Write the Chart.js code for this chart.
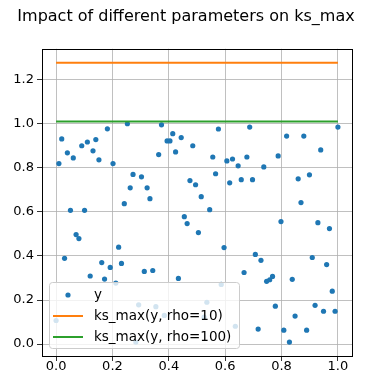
<!DOCTYPE html>
<html>
<head>
<meta charset="utf-8">
<script src="https://cdn.jsdelivr.net/npm/chart.js@4"></script>
<style>
  html, body { margin: 0; padding: 0; background: #fff; }
  #wrap { width: 377px; height: 391px; }
</style>
</head>
<body>
<div id="wrap"><canvas id="myChart" width="377" height="391"></canvas></div>
<script>
// -- data --
const xs = [
  0.000, 0.010, 0.020, 0.030, 0.040, 0.051, 0.061, 0.071, 0.081, 0.091,
  0.101, 0.111, 0.121, 0.131, 0.141, 0.152, 0.162, 0.172, 0.182, 0.192,
  0.202, 0.212, 0.222, 0.232, 0.242, 0.253, 0.263, 0.273, 0.283, 0.293,
  0.303, 0.313, 0.323, 0.333, 0.343, 0.354, 0.364, 0.374, 0.384, 0.394,
  0.404, 0.414, 0.424, 0.434, 0.444, 0.455, 0.465, 0.475, 0.485, 0.495,
  0.505, 0.515, 0.525, 0.535, 0.545, 0.556, 0.566, 0.576, 0.586, 0.596,
  0.606, 0.616, 0.626, 0.636, 0.646, 0.657, 0.667, 0.677, 0.687, 0.697,
  0.707, 0.717, 0.727, 0.737, 0.747, 0.758, 0.768, 0.778, 0.788, 0.798,
  0.808, 0.818, 0.828, 0.838, 0.848, 0.859, 0.869, 0.879, 0.889, 0.899,
  0.909, 0.919, 0.929, 0.939, 0.949, 0.960, 0.970, 0.980, 0.990, 1.000
];
const ys = [
  0.107, 0.819, 0.931, 0.389, 0.868, 0.607, 0.845, 0.497, 0.479, 0.900,
  0.607, 0.917, 0.309, 0.877, 0.928, 0.836, 0.370, 0.295, 0.977, 0.348,
  0.819, 0.277, 0.440, 0.366, 0.637, 1.000, 0.709, 0.770, 0.009, 0.178,
  0.759, 0.330, 0.709, 0.660, 0.334, 0.170, 0.860, 0.995, 0.130, 0.922,
  0.922, 0.955, 0.872, 0.298, 0.937, 0.578, 0.547, 0.742, 0.900, 0.723,
  0.506, 0.669, 0.122, 0.190, 0.610, 0.849, 0.773, 0.976, 0.271, 0.438,
  0.831, 0.732, 0.840, 0.081, 0.809, 0.746, 0.325, 0.849, 0.985, 0.746,
  0.407, 0.068, 0.380, 0.804, 0.285, 0.292, 0.307, 0.172, 0.854, 0.556,
  0.063, 0.944, 0.009, 0.294, 0.127, 0.750, 0.642, 0.944, 0.063, 0.768,
  0.393, 0.176, 0.551, 0.881, 0.149, 0.361, 0.524, 0.240, 0.149, 0.985
];
const lineX     = [0.0, 1.0];
const ksRho10   = [1.277, 1.277];
const ksRho100  = [1.010, 1.010];
const labels    = ['y', 'ks_max(y, rho=10)', 'ks_max(y, rho=100)'];
const titleText = 'Impact of different parameters on ks_max';
const xTicks    = [0.0, 0.2, 0.4, 0.6, 0.8, 1.0];
const yTicks    = [0.0, 0.2, 0.4, 0.6, 0.8, 1.0, 1.2];

const FONT = "'DejaVu Sans', sans-serif";
Chart.defaults.font.family = FONT;
Chart.defaults.color = '#000';

const pts = (a, b) => a.map((v, i) => ({ x: v, y: b[i] }));

// title, frame round the axes and legend box inside the plot, like matplotlib
const framePlugin = {
    id: 'frame',
    afterDraw(chart) {
        const { ctx, chartArea: a } = chart;
        ctx.save();
        ctx.strokeStyle = '#000';
        ctx.lineWidth = 1;
        ctx.strokeRect(Math.round(a.left) + 0.5, Math.round(a.top) + 0.5,
                       Math.round(a.right - a.left), Math.round(a.bottom - a.top));

        ctx.font = '16px ' + FONT;
        ctx.textAlign = 'center';
        ctx.textBaseline = 'middle';
        ctx.fillStyle = '#000';
        ctx.fillText(titleText, 186, 17);

        // legend
        const bx = 49.5, by = 282.5, bw = 190, bh = 66;
        ctx.beginPath();
        ctx.roundRect(bx, by, bw, bh, 3);
        ctx.fillStyle = 'rgba(255,255,255,0.8)';
        ctx.fill();
        ctx.strokeStyle = '#cccccc';
        ctx.stroke();

        ctx.font = '13.5px ' + FONT;
        ctx.textAlign = 'left';
        chart.data.datasets.forEach((ds, i) => {
            const cy = 295 + i * 21;
            if (ds.type === 'scatter') {
                ctx.beginPath();
                ctx.arc(68, cy, 2.6, 0, Math.PI * 2);
                ctx.fillStyle = ds.backgroundColor;
                ctx.fill();
            } else {
                ctx.beginPath();
                ctx.moveTo(53, cy);
                ctx.lineTo(83, cy);
                ctx.strokeStyle = ds.borderColor;
                ctx.lineWidth = 2;
                ctx.stroke();
            }
            ctx.fillStyle = '#000';
            ctx.fillText(ds.label, 94, cy);
        });
        ctx.restore();
    }
};

const ctx = document.getElementById('myChart').getContext('2d');
new Chart(ctx, {
    type: 'scatter',
    data: {
        datasets: [
            { type: 'scatter', label: labels[0], data: pts(xs, ys),
              backgroundColor: '#1f77b4', borderWidth: 0, pointRadius: 2.6, order: 3 },
            { type: 'line', label: labels[1], data: pts(lineX, ksRho10),
              borderColor: '#ff7f0e', borderWidth: 2, pointRadius: 0, fill: false, order: 2 },
            { type: 'line', label: labels[2], data: pts(lineX, ksRho100),
              borderColor: '#2ca02c', borderWidth: 2, pointRadius: 0, fill: false, order: 1 }
        ]
    },
    options: {
        responsive: false,
        animation: false,
        layout: { padding: { left: 0, right: 25, top: 48.8, bottom: 0 } },
        plugins: {
            legend: { display: false },
            tooltip: { enabled: false },
            title: { display: false }
        },
        scales: {
            x: {
                type: 'linear', min: -0.05, max: 1.05,
                afterBuildTicks: s => { s.ticks = xTicks.map(v => ({ value: v })); },
                afterFit: s => { s.height = 35; },
                grid: { color: '#b0b0b0', lineWidth: 0.8, tickColor: '#000', tickLength: 5 },
                border: { display: false },
                ticks: { font: { size: 13 }, padding: -2, maxRotation: 0,
                         callback: v => v.toFixed(1) }
            },
            y: {
                type: 'linear', min: -0.054, max: 1.34,
                afterBuildTicks: s => { s.ticks = yTicks.map(v => ({ value: v })); },
                afterFit: s => { s.width = 42; },
                grid: { color: '#b0b0b0', lineWidth: 0.8, tickColor: '#000', tickLength: 5 },
                border: { display: false },
                ticks: { font: { size: 13 }, padding: 3,
                         callback: v => v.toFixed(1) }
            }
        }
    },
    plugins: [framePlugin]
});
</script>
</body>
</html>
